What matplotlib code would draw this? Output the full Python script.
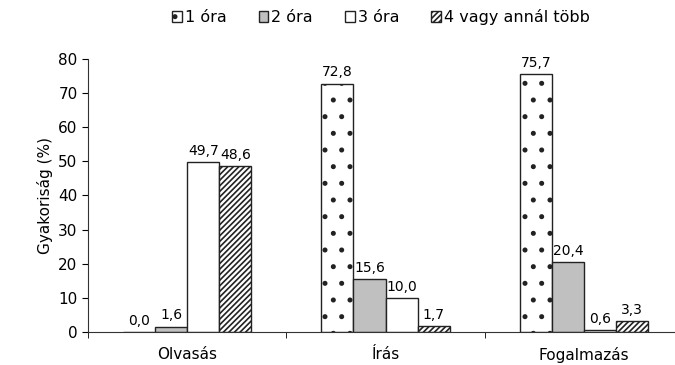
import matplotlib.pyplot as plt
import numpy as np

plt.rcParams['font.family'] = ['DejaVu Sans']
plt.rcParams['hatch.linewidth'] = 1.2

categories = ["Olvasás", "Írás", "Fogalmazás"]
series = ["1 óra", "2 óra", "3 óra", "4 vagy annál több"]
values = [
    [0.0, 72.8, 75.7],
    [1.6, 15.6, 20.4],
    [49.7, 10.0, 0.6],
    [48.6, 1.7, 3.3],
]
labels = [
    ["0,0", "72,8", "75,7"],
    ["1,6", "15,6", "20,4"],
    ["49,7", "10,0", "0,6"],
    ["48,6", "1,7", "3,3"],
]
colors = ["white", "#c0c0c0", "white", "white"]
hatches = [".", None, None, "//////"]

fig = plt.figure(figsize=(6.75, 3.65), dpi=100)
ax = fig.add_axes([0.1304, 0.0904, 0.8815, 0.748])

x = np.arange(len(categories))
w = 0.1616
for i in range(4):
    pos = x + (i - 1.5) * w
    bars = ax.bar(pos, values[i], w, color=colors[i], edgecolor="#222222",
                  linewidth=1.0, hatch=hatches[i], label=series[i])
    for p, v, t in zip(pos, values[i], labels[i]):
        ax.text(p, v + 1.2, t, ha="center", va="bottom", fontsize=10)

ax.set_xlim(-0.5, 2.5)
ax.set_ylim(0, 80)
ax.set_yticks(range(0, 81, 10))
ax.set_xticks(x)
ax.set_xticklabels(categories, fontsize=11)
ax.set_xticks([-0.5, 0.5, 1.5, 2.5], minor=True)
ax.tick_params(axis="x", which="major", length=0, pad=11)
ax.tick_params(axis="x", which="minor", length=4, direction="out")
ax.tick_params(axis="y", length=4, labelsize=11)
ax.set_ylabel("Gyakoriság (%)", fontsize=11)
for s in ["top", "right"]:
    ax.spines[s].set_visible(False)
for s in ["left", "bottom"]:
    ax.spines[s].set_color("#333333")

h, l = ax.get_legend_handles_labels()
fig.legend(h, l, loc="center", bbox_to_anchor=(0.5644, 0.953), ncol=4, frameon=False,
           fontsize=11.5, handlelength=0.6, handleheight=0.6, handletextpad=0.2,
           columnspacing=2.0, borderpad=0)

fig.savefig("out.png", dpi=100)
